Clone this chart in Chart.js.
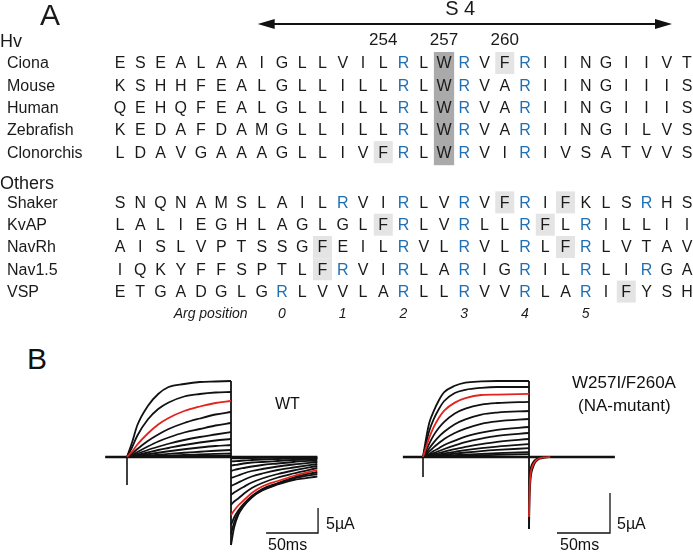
<!DOCTYPE html>
<html>
<head>
<meta charset="utf-8">
<script src="https://cdn.jsdelivr.net/npm/chart.js@4.4.0/dist/chart.umd.min.js"></script>
<style>
  body { margin: 0; background: #fff; width: 693px; height: 552px; position: relative; overflow: hidden;
         font-family: Arial, "Liberation Sans", sans-serif; }
  .box { position: absolute; }
  .lbl { position: absolute; white-space: nowrap; color: #111; line-height: 1; }
</style>
</head>
<body>
<div class="box" style="left:0;top:0;width:693px;height:335px"><canvas id="seq" width="693" height="335"></canvas></div>
<div class="box" style="left:95px;top:360px;width:275px;height:192px"><canvas id="wt" width="275" height="192"></canvas></div>
<div class="box" style="left:395px;top:360px;width:298px;height:192px"><canvas id="mut" width="298" height="192"></canvas></div>
<script>
// ---------- panel A: alignment ----------
const hvNames = ['Ciona', 'Mouse', 'Human', 'Zebrafish', 'Clonorchis'];
const hvSeqs = [
  'ESEALAAIGLLVILRLWRVFRIINGIIVT',
  'KSHHFEALGLLILLRLWRVARIINGIIIS',
  'QEHQFEALGLLILLRLWRVARIINGIIIS',
  'KEDAFDAMGLLILLRLWRVARIINGILVS',
  'LDAVGAAAGLLIVFRLWRVIRIVSATVVS'
];
const otherNames = ['Shaker', 'KvAP', 'NavRh', 'Nav1.5', 'VSP'];
const otherSeqs = [
  'SNQNAMSLAILRVIRLVRVFRIFKLSRHS',
  'LALIEGHLAGLGLFRLVRLLRFLRILLII',
  'AISLVPTSSGFEILRVLRVLRLFRLVTAV',
  'IQKYFFSPTLFRVIRLARIGRILRLIRGA',
  'ETGADGLGRLVVLARLLRVVRLARIFYSH'
];
// highlighted (aromatic) columns, 1-based
const hvLight = [[20], [], [], [], [14]];
const otherLight = [[20, 23], [14, 22], [11, 23], [11], [26]];
const conservedCol = 17;
const resLabels = ['254', '257', '260'];
const resCols = [14, 17, 20];
const argLabels = ['0', '1', '2', '3', '4', '5'];
const argCols = [9, 12, 15, 18, 21, 24];

// row layout (row units)
const hvRows = [0, 1, 2, 3, 4];
const otherRows = [6.25, 7.25, 8.25, 9.25, 10.25];
const argRow = 11.25;

// ---------- panel B: currents (time in ms, current in uA) ----------
const wtPulseT = [0, 5, 10, 20, 30, 40, 55, 70, 85, 100];
const wtOn = [
  [0, 3.0, 6.4, 10.2, 12.6, 14.0, 14.6, 15.0, 15.1, 15.2],
  [0, 2.0, 4.3, 7.5, 9.6, 10.9, 12.1, 12.6, 12.9, 13.0],
  [0, 1.1, 2.5, 4.7, 6.5, 7.8, 9.2, 10.1, 10.8, 11.2],
  [0, 0.7, 1.6, 3.2, 4.5, 5.6, 6.8, 7.7, 8.5, 9.0],
  [0, 0.4, 1.0, 2.1, 3.1, 3.9, 4.9, 5.6, 6.3, 6.8],
  [0, 0.25, 0.65, 1.4, 2.05, 2.65, 3.4, 4.0, 4.5, 5.0],
  [0, 0.15, 0.4, 0.9, 1.4, 1.8, 2.4, 2.9, 3.3, 3.6],
  [0, 0.1, 0.25, 0.55, 0.85, 1.15, 1.55, 1.9, 2.2, 2.4],
  [0, 0.05, 0.12, 0.3, 0.45, 0.62, 0.85, 1.05, 1.25, 1.4],
  [0, 0.02, 0.05, 0.12, 0.2, 0.28, 0.4, 0.52, 0.62, 0.7],
  [0, 0.01, 0.02, 0.05, 0.08, 0.12, 0.17, 0.22, 0.27, 0.3]
];
const wtOnRed = 2;
const wtTailT = [100, 103, 107, 112, 120, 130, 145, 160, 183];
const wtTail = [
  [-17.6, -14.1, -11.6, -9.9, -8.1, -6.7, -5.5, -4.6, -3.9],
  [-15.4, -13.1, -11.2, -9.7, -8.0, -6.6, -5.4, -4.3, -3.4],
  [-13.6, -12.1, -10.7, -9.4, -7.8, -6.4, -5.2, -4.1, -3.0],
  [-11.6, -10.7, -9.7, -8.7, -7.2, -5.9, -4.8, -3.8, -2.6],
  [-9.6, -8.9, -8.3, -7.4, -6.2, -5.2, -4.1, -3.3, -2.2],
  [-7.6, -7.1, -6.6, -6.0, -5.1, -4.3, -3.4, -2.7, -1.8],
  [-5.8, -5.5, -5.1, -4.6, -3.9, -3.3, -2.6, -2.1, -1.4],
  [-4.2, -4.0, -3.7, -3.3, -2.8, -2.4, -1.9, -1.5, -1.0],
  [-2.8, -2.6, -2.4, -2.2, -1.9, -1.6, -1.3, -1.0, -0.7],
  [-1.7, -1.6, -1.5, -1.3, -1.1, -1.0, -0.8, -0.6, -0.4],
  [-0.9, -0.85, -0.8, -0.7, -0.6, -0.5, -0.4, -0.3, -0.2],
  [-0.3, -0.28, -0.26, -0.23, -0.2, -0.17, -0.13, -0.1, -0.07]
];
const wtTailRed = 3;
const wtTransient = -5.6;
const wtSpan = [-21, 183];

const mutPulseT = [0, 3, 6, 10, 15, 20, 30, 40, 55, 70, 100];
const mutOn = [
  [0, 2.4, 4.3, 5.7, 7.1, 8.1, 8.9, 9.3, 9.45, 9.5, 9.5],
  [0, 1.75, 3.3, 4.7, 6.0, 7.0, 8.0, 8.4, 8.65, 8.75, 8.75],
  [0, 1.25, 2.45, 3.7, 4.9, 5.8, 6.8, 7.35, 7.75, 7.8, 7.9],
  [0, 0.8, 1.7, 2.7, 3.65, 4.4, 5.45, 6.05, 6.55, 6.75, 6.9],
  [0, 0.5, 1.1, 1.8, 2.55, 3.15, 4.1, 4.7, 5.3, 5.55, 5.75],
  [0, 0.35, 0.7, 1.2, 1.75, 2.25, 3.0, 3.55, 4.15, 4.45, 4.75],
  [0, 0.2, 0.4, 0.75, 1.1, 1.5, 2.05, 2.55, 3.05, 3.4, 3.75],
  [0, 0.12, 0.27, 0.48, 0.75, 1.0, 1.45, 1.85, 2.3, 2.65, 3.0],
  [0, 0.08, 0.18, 0.32, 0.5, 0.68, 0.98, 1.28, 1.62, 1.9, 2.25],
  [0, 0.05, 0.11, 0.2, 0.32, 0.44, 0.65, 0.85, 1.1, 1.3, 1.6],
  [0, 0.03, 0.07, 0.12, 0.2, 0.28, 0.42, 0.56, 0.74, 0.88, 1.1],
  [0, 0.02, 0.04, 0.06, 0.1, 0.14, 0.22, 0.3, 0.4, 0.48, 0.6],
  [0, 0.01, 0.02, 0.03, 0.05, 0.07, 0.11, 0.16, 0.22, 0.27, 0.35]
];
const mutOnRed = 2;
const mutTailT = [100, 100.5, 101, 102, 103.5, 105, 107, 110, 114, 120];
const mutTail = [
  [-9.0, -5.5, -3.6, -2.2, -1.4, -0.9, -0.5, -0.22, -0.08, 0],
  [-7.5, -4.2, -2.8, -1.7, -1.1, -0.7, -0.38, -0.16, -0.05, 0],
  [-5.5, -3.0, -2.0, -1.2, -0.75, -0.45, -0.25, -0.1, -0.03, 0]
];
const mutTailRed = 1;
const mutTransient = -2.5;
const mutSpan = [-19, 181];

// scale bars: [t start, current start], lengths 50 ms / 5 uA
const barMs = 50, barUA = 5;
const wtBarAt = [133.7, -15.2];
const mutBarAt = [126.4, -9.5];

const RED = '#e3231d', BLACK = '#111111', BLUE = '#1f6fb4';
const FONT = 'Arial, "Liberation Sans", sans-serif';

// ---------- alignment chart ----------
const seqPlugin = {
  id: 'alignment',
  afterDraw(chart) {
    const { ctx } = chart;
    const x = chart.scales.x, y = chart.scales.y;
    const colW = x.getPixelForValue(2) - x.getPixelForValue(1);
    ctx.save();

    // conserved W column
    const dTop = y.getPixelForValue(hvRows[0]) - 11;
    const dBot = y.getPixelForValue(hvRows[hvRows.length - 1]) + 13;
    ctx.fillStyle = '#aaaaaa';
    ctx.fillRect(x.getPixelForValue(conservedCol) - colW / 2, dTop, colW, dBot - dTop);

    ctx.fillStyle = '#e4e4e4';
    const light = (cols, row) => cols.forEach(c => {
      ctx.fillRect(x.getPixelForValue(c) - 9.5, y.getPixelForValue(row) - 11, 19, 22);
    });
    hvLight.forEach((cols, i) => light(cols, hvRows[i]));
    otherLight.forEach((cols, i) => light(cols, otherRows[i]));

    // residues
    ctx.textAlign = 'center';
    ctx.textBaseline = 'middle';
    ctx.font = '16px ' + FONT;
    const drawSeq = (seq, row) => {
      [...seq].forEach((ch, k) => {
        ctx.fillStyle = ch === 'R' ? BLUE : '#1a1a1a';
        ctx.fillText(ch, x.getPixelForValue(k + 1), y.getPixelForValue(row) + 1);
      });
    };
    hvSeqs.forEach((s, i) => drawSeq(s, hvRows[i]));
    otherSeqs.forEach((s, i) => drawSeq(s, otherRows[i]));

    // names
    ctx.textAlign = 'left';
    ctx.fillStyle = '#1a1a1a';
    ctx.font = '16px ' + FONT;
    hvNames.forEach((n, i) => ctx.fillText(n, 7, y.getPixelForValue(hvRows[i]) + 1));
    otherNames.forEach((n, i) => ctx.fillText(n, 7, y.getPixelForValue(otherRows[i]) + 1));
    ctx.font = '18px ' + FONT;
    ctx.fillText('Hv', 0, y.getPixelForValue(-0.94));
    ctx.fillText('Others', 0, y.getPixelForValue(5.43));
    ctx.font = '30px ' + FONT;
    ctx.fillText('A', 40, 17);

    // residue numbers
    ctx.textAlign = 'center';
    ctx.font = '17px ' + FONT;
    resLabels.forEach((l, i) => ctx.fillText(l, x.getPixelForValue(resCols[i]), y.getPixelForValue(-1.03)));
    ctx.font = '20px ' + FONT;
    ctx.fillText('S 4', x.getPixelForValue(17.8), y.getPixelForValue(-2.38));

    // Arg positions
    ctx.font = 'italic 14px ' + FONT;
    argLabels.forEach((l, i) => ctx.fillText(l, x.getPixelForValue(argCols[i]), y.getPixelForValue(argRow)));
    ctx.textAlign = 'right';
    ctx.fillText('Arg position', x.getPixelForValue(7.3), y.getPixelForValue(argRow));

    // S4 double arrow
    const ay = y.getPixelForValue(-1.75);
    const ax0 = x.getPixelForValue(7.8), ax1 = x.getPixelForValue(28.26);
    ctx.strokeStyle = '#111';
    ctx.lineWidth = 2;
    ctx.beginPath(); ctx.moveTo(ax0 + 10, ay); ctx.lineTo(ax1 - 10, ay); ctx.stroke();
    ctx.fillStyle = '#111';
    ctx.beginPath(); ctx.moveTo(ax0, ay); ctx.lineTo(ax0 + 17, ay - 5); ctx.lineTo(ax0 + 17, ay + 5); ctx.closePath(); ctx.fill();
    ctx.beginPath(); ctx.moveTo(ax1, ay); ctx.lineTo(ax1 - 17, ay - 5); ctx.lineTo(ax1 - 17, ay + 5); ctx.closePath(); ctx.fill();
    ctx.restore();
  }
};

new Chart(document.getElementById('seq'), {
  type: 'scatter',
  data: { datasets: [] },
  options: {
    responsive: false, animation: false, events: [],
    layout: { padding: 0 },
    plugins: { legend: { display: false }, tooltip: { enabled: false } },
    scales: {
      x: { type: 'linear', display: false, min: -4.926, max: 29.296 },
      y: { type: 'linear', display: false, reverse: true, min: -2.825, max: 12.197 }
    }
  },
  plugins: [seqPlugin]
});

// ---------- current traces ----------
function pts(ts, vs) { return ts.map((t, i) => ({ x: t, y: vs[i] })); }

function line(data, color, width, order) {
  return {
    data, borderColor: color, borderWidth: width, showLine: true, pointRadius: 0,
    cubicInterpolationMode: 'monotone', order: order, fill: false
  };
}

function traceSets(c) {
  const sets = [];
  sets.push(line([{ x: c.span[0], y: 0 }, { x: c.span[1], y: 0 }], BLACK, 2.6, 2));
  sets.push(line([{ x: 0, y: 0 }, { x: 0, y: c.transient }], BLACK, 1.6, 2));
  const top = Math.max(...c.on.map(v => v[v.length - 1]));
  const bottom = Math.min(...c.tail.map(v => v[0]));
  sets.push(line([{ x: 100, y: top }, { x: 100, y: bottom }], BLACK, 1.8, 2));
  c.on.forEach((v, i) => sets.push(line(pts(c.tOn, v), i === c.onRed ? RED : BLACK, 1.8, i === c.onRed ? 0 : 1)));
  c.tail.forEach((v, i) => sets.push(line(pts(c.tTail, v), i === c.tailRed ? RED : BLACK, 1.8, i === c.tailRed ? 0 : 1)));
  // scale bar
  const bar = line([{ x: c.bar[0], y: c.bar[1] }, { x: c.bar[0] + barMs, y: c.bar[1] },
                    { x: c.bar[0] + barMs, y: c.bar[1] + barUA }], BLACK, 1.3, 2);
  bar.cubicInterpolationMode = 'default';
  bar.tension = 0;
  sets.push(bar);
  return sets;
}

function traceChart(id, c, xr, yr) {
  new Chart(document.getElementById(id), {
    type: 'scatter',
    data: { datasets: traceSets(c) },
    options: {
      responsive: false, animation: false, events: [],
      layout: { padding: 0 },
      plugins: { legend: { display: false }, tooltip: { enabled: false } },
      scales: {
        x: { type: 'linear', display: false, min: xr[0], max: xr[1] },
        y: { type: 'linear', display: false, min: yr[0], max: yr[1] }
      }
    }
  });
}

traceChart('wt', { span: wtSpan, transient: wtTransient, tOn: wtPulseT, on: wtOn, onRed: wtOnRed,
  tTail: wtTailT, tail: wtTail, tailRed: wtTailRed, bar: wtBarAt }, [-30.77, 233.65], [-19.0, 19.4]);
traceChart('mut', { span: mutSpan, transient: mutTransient, tOn: mutPulseT, on: mutOn, onRed: mutOnRed,
  tTail: mutTailT, tail: mutTail, tailRed: mutTailRed, bar: mutBarAt }, [-26.42, 254.7], [-11.875, 12.125]);

// ---------- text labels of panel B ----------
function label(text, x, base, size) {
  const d = document.createElement('div');
  d.className = 'lbl';
  d.textContent = text;
  d.style.left = x + 'px';
  d.style.top = (base - 0.85 * size) + 'px';
  d.style.fontSize = size + 'px';
  document.body.appendChild(d);
}
label('B', 27, 369, 30);
label('WT', 275, 410, 16);
label('5µA', 326, 530, 16);
label('50ms', 268, 551, 16);
label('W257I/F260A', 572, 388, 17);
label('(NA-mutant)', 578, 411, 17);
label('5µA', 617, 530, 16);
label('50ms', 560, 551, 16);
</script>
</body>
</html>
